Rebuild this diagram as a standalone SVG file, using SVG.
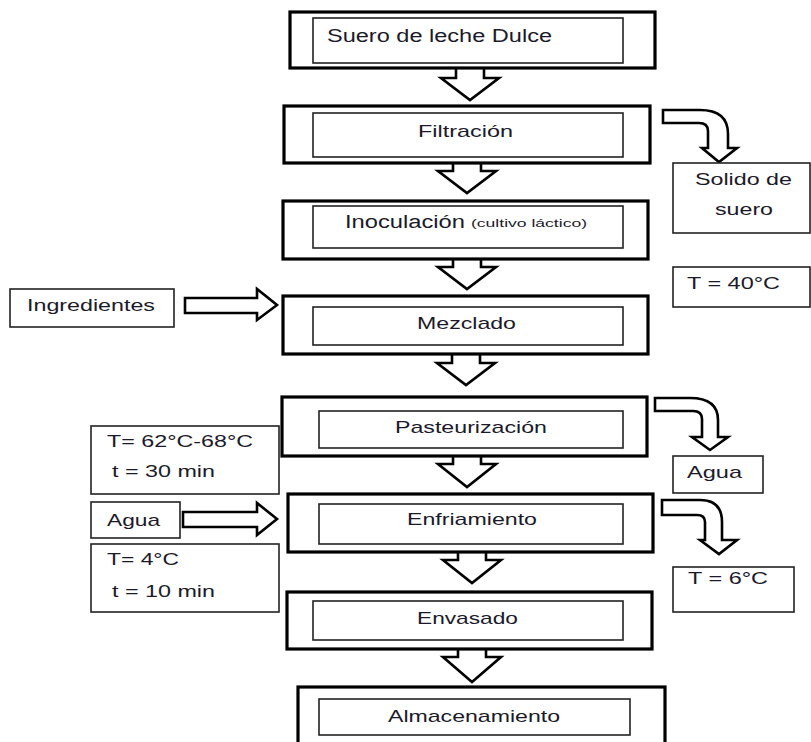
<svg xmlns="http://www.w3.org/2000/svg" width="811" height="742" viewBox="0 0 811 742">
<style>
.outer{fill:#fff;stroke:#000;stroke-width:3.2}
.inner{fill:#fff;stroke:#222;stroke-width:1.6}
.side{fill:#fff;stroke:#222;stroke-width:1.6}
.arrow{fill:#fff;stroke:#000;stroke-width:2.6;stroke-linejoin:miter}
text{font-family:"Liberation Sans",Arial,sans-serif;font-size:17px;fill:#1c1a2a}
.big{font-size:18px}
.small{font-size:10.5px}
</style>
<rect width="811" height="742" fill="#fff"/>
<g id="connectors">
<path class="arrow" d="M456,68 L456,78 L441,78 L470,100 L499,78 L484,78 L484,68"/>
<path class="arrow" d="M453,163 L453,171 L438,171 L467,193 L496,171 L481,171 L481,163"/>
<path class="arrow" d="M453,259 L453,267 L438,267 L467,289 L496,267 L481,267 L481,259"/>
<path class="arrow" d="M452,354 L452,363 L437,363 L466,385 L495,363 L480,363 L480,354"/>
<path class="arrow" d="M453,456 L453,464 L438,464 L467,487 L496,464 L481,464 L481,456"/>
<path class="arrow" d="M458,552 L458,560 L443,560 L472,583 L501,560 L486,560 L486,552"/>
<path class="arrow" d="M458,649 L458,657 L443,657 L472,682 L501,657 L486,657 L486,649"/>
<path class="arrow" d="M663,110 L700,110 Q728,110 728,134 L728,148 L737,148 L719,162 L702,148 L708,148 L708,131 Q708,123 699,123 L663,123 Z"/>
<path class="arrow" d="M655,398 L690,398 Q718,398 718,420 L718,437 L728,437 L710,450 L692,437 L702,437 L702,419 Q702,411 693,411 L655,411 Z"/>
<path class="arrow" d="M662,500 L700,500 Q722,500 722,522 L722,540 L737,540 L719,554 L700,540 L705,540 L705,522 Q705,515 697,515 L662,515 Z"/>
<path class="arrow" d="M185,298 L257,298 L257,289 L277,305 L257,320 L257,313 L185,313 Z"/>
<path class="arrow" d="M183,512 L257,512 L257,503 L277,519 L257,535 L257,527 L183,527 Z"/>
</g>
<g id="suero">
<rect class="outer" x="290" y="12" width="365" height="56"/>
<rect class="inner" x="313" y="18" width="310" height="45"/>
<text class="big" x="327" y="42" textLength="225" lengthAdjust="spacingAndGlyphs">Suero de leche Dulce</text>
</g>
<g id="filtracion">
<rect class="outer" x="284" y="106" width="366" height="57"/>
<rect class="inner" x="313" y="113" width="310" height="44"/>
<text x="418" y="137" textLength="95" lengthAdjust="spacingAndGlyphs">Filtración</text>
</g>
<g id="inoculacion">
<rect class="outer" x="283" y="201" width="365" height="58"/>
<rect class="inner" x="313" y="206" width="310" height="42"/>
<text class="big" x="345" y="228" textLength="120" lengthAdjust="spacingAndGlyphs">Inoculación</text>
<text class="small" x="471" y="227" textLength="116" lengthAdjust="spacingAndGlyphs">(cultivo láctico)</text>
</g>
<g id="mezclado">
<rect class="outer" x="283" y="296" width="365" height="58"/>
<rect class="inner" x="313" y="307" width="310" height="38"/>
<text x="417" y="329" textLength="99" lengthAdjust="spacingAndGlyphs">Mezclado</text>
</g>
<g id="pasteurizacion">
<rect class="outer" x="282" y="397" width="365" height="59"/>
<rect class="inner" x="319" y="411" width="304" height="37"/>
<text x="395" y="433" textLength="152" lengthAdjust="spacingAndGlyphs">Pasteurización</text>
</g>
<g id="enfriamiento">
<rect class="outer" x="288" y="494" width="365" height="58"/>
<rect class="inner" x="319" y="504" width="304" height="40"/>
<text x="407" y="525" textLength="130" lengthAdjust="spacingAndGlyphs">Enfriamiento</text>
</g>
<g id="envasado">
<rect class="outer" x="287" y="592" width="365" height="57"/>
<rect class="inner" x="313" y="601" width="310" height="39"/>
<text x="417" y="624" textLength="101" lengthAdjust="spacingAndGlyphs">Envasado</text>
</g>
<g id="almacenamiento">
<rect class="outer" x="298" y="687" width="367" height="70"/>
<rect class="inner" x="319" y="699" width="311" height="36"/>
<text x="388" y="722" textLength="172" lengthAdjust="spacingAndGlyphs">Almacenamiento</text>
</g>
<g id="solido">
<rect class="side" x="673" y="163" width="137" height="70"/>
<text x="695" y="185" textLength="97" lengthAdjust="spacingAndGlyphs">Solido de</text>
<text x="715" y="215" textLength="58" lengthAdjust="spacingAndGlyphs">suero</text>
</g>
<g id="t40">
<rect class="side" x="673" y="267" width="137" height="40"/>
<text x="687" y="289" textLength="93" lengthAdjust="spacingAndGlyphs">T = 40°C</text>
</g>
<g id="ingredientes">
<rect class="side" x="10" y="289" width="164" height="38"/>
<text x="27" y="311" textLength="128" lengthAdjust="spacingAndGlyphs">Ingredientes</text>
</g>
<g id="pasteur-cond">
<rect class="side" x="91" y="426" width="188" height="68"/>
<text x="107" y="447" textLength="146" lengthAdjust="spacingAndGlyphs">T= 62°C-68°C</text>
<text x="112" y="477" textLength="103" lengthAdjust="spacingAndGlyphs">t = 30 min</text>
</g>
<g id="agua-in">
<rect class="side" x="91" y="502" width="89" height="36"/>
<text x="107" y="526" textLength="53" lengthAdjust="spacingAndGlyphs">Agua</text>
</g>
<g id="enfr-cond">
<rect class="side" x="91" y="544" width="188" height="68"/>
<text x="107" y="565" textLength="72" lengthAdjust="spacingAndGlyphs">T= 4°C</text>
<text x="112" y="597" textLength="103" lengthAdjust="spacingAndGlyphs">t = 10 min</text>
</g>
<g id="agua-out">
<rect class="side" x="673" y="456" width="90" height="37"/>
<text x="687" y="478" textLength="55" lengthAdjust="spacingAndGlyphs">Agua</text>
</g>
<g id="t6">
<rect class="side" x="673" y="567" width="121" height="45"/>
<text x="688" y="584" textLength="80" lengthAdjust="spacingAndGlyphs">T = 6°C</text>
</g>
</svg>
